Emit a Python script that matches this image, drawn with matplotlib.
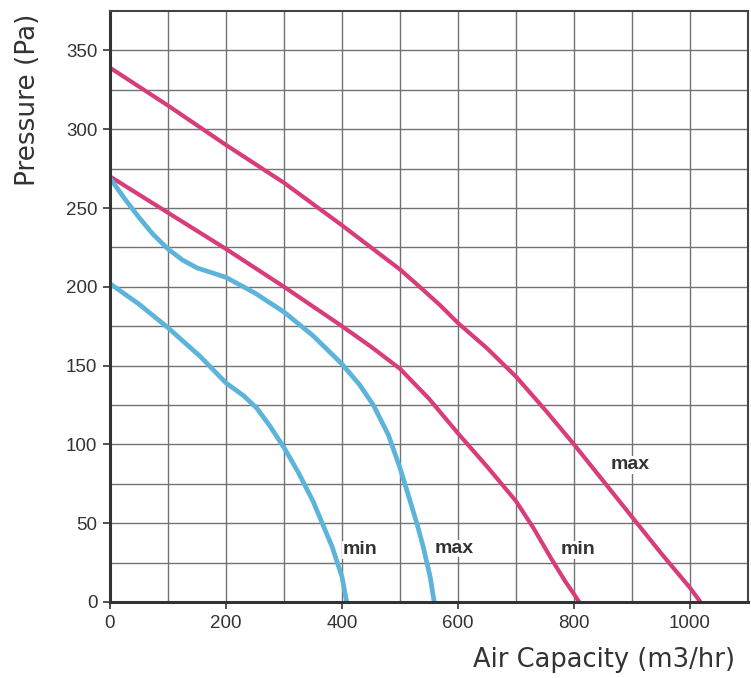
import matplotlib
matplotlib.use("Agg")
import matplotlib.pyplot as plt
import numpy as np

# ---- data ----
pink_max_x = [0, 100, 200, 300, 400, 450, 500, 540, 570, 600, 650, 700, 750, 800, 850, 900, 950, 1000, 1018]
pink_max_y = [339, 315, 290, 266, 239, 225, 211, 198, 188, 177, 161, 143, 122, 100, 77, 54, 31, 9, 0]

pink_min_x = [0, 100, 200, 300, 400, 450, 500, 550, 600, 650, 700, 730, 760, 785, 800, 809]
pink_min_y = [270, 247, 224, 200, 175, 162, 148, 129, 107, 86, 64, 47, 28, 13, 5, 0]

blue_max_x = [0, 25, 50, 75, 100, 125, 150, 200, 250, 300, 350, 400, 430, 454, 480, 500, 515, 529, 540, 552, 559]
blue_max_y = [269, 256, 244, 233, 224, 217, 212, 206, 196, 184, 169, 151, 138, 125, 106, 85, 67, 50, 35, 16, 0]

blue_min_x = [0, 50, 100, 155, 200, 230, 253, 275, 300, 325, 350, 383, 400, 408]
blue_min_y = [202, 189, 174, 156, 139, 131, 123, 112, 98, 82, 64, 35, 16, 0]

labels = ["min", "max", "min", "max"]
label_x = [431, 593, 807, 897]
label_y = [33, 34, 33, 87]

x_ticks = [0, 200, 400, 600, 800, 1000]
y_ticks = [0, 50, 100, 150, 200, 250, 300, 350]

PINK = "#d83c7b"
BLUE = "#5db4da"

fig = plt.figure(figsize=(7.51, 6.78), dpi=100)
ax = fig.add_axes([110/751, 76/678, 638/751, 591/678])

ax.set_xlim(0, 1100)
ax.set_ylim(0, 375)

# grid
for gx in range(100, 1100, 100):
    ax.axvline(gx, color="#727272", lw=1.0, zorder=1)
for gy in np.arange(25, 375, 25):
    ax.axhline(gy, color="#727272", lw=1.0, zorder=1)

ax.plot(pink_max_x, pink_max_y, color=PINK, lw=3.0, solid_capstyle="butt", solid_joinstyle="round", zorder=3)
ax.plot(pink_min_x, pink_min_y, color=PINK, lw=3.0, solid_capstyle="butt", solid_joinstyle="round", zorder=3)
ax.plot(blue_max_x, blue_max_y, color=BLUE, lw=3.4, solid_capstyle="butt", solid_joinstyle="round", zorder=3)
ax.plot(blue_min_x, blue_min_y, color=BLUE, lw=3.4, solid_capstyle="butt", solid_joinstyle="round", zorder=3)

for t, lx, ly in zip(labels, label_x, label_y):
    ax.text(lx, ly, t, ha="center", va="center", fontsize=14, fontweight="bold",
            family="Liberation Sans", color="#333333", zorder=4,
            bbox=dict(facecolor="white", edgecolor="none", pad=0.3))

ax.set_xticks(x_ticks)
ax.set_yticks(y_ticks)
ax.tick_params(axis="both", direction="out", length=5, width=1.2, color="#333333",
               labelsize=13.5, labelcolor="#333333", pad=4)
for lab in ax.get_xticklabels() + ax.get_yticklabels():
    lab.set_family("Liberation Sans")

for side in ["left", "bottom"]:
    ax.spines[side].set_linewidth(2.2)
    ax.spines[side].set_color("#333333")
for side in ["top", "right"]:
    ax.spines[side].set_linewidth(1.5)
    ax.spines[side].set_color("#444444")
for s in ax.spines.values():
    s.set_zorder(5)

ax.set_xlabel("Air Capacity (m3/hr)", fontsize=18.5, color="#333333", family="DejaVu Sans",
              ha="right", va="center")
ax.xaxis.set_label_coords(0.98, -0.098)
ax.set_ylabel("Pressure (Pa)", fontsize=19, color="#333333", family="DejaVu Sans",
              ha="center", va="center")
ax.yaxis.set_label_coords(-0.128, 0.849)

fig.savefig("out.png", dpi=100)
